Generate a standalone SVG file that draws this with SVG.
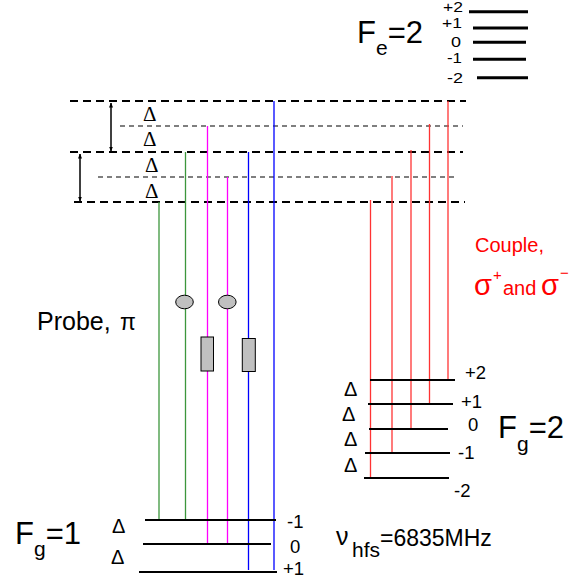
<svg xmlns="http://www.w3.org/2000/svg" width="581" height="579" viewBox="0 0 581 579">
<defs>
<marker id="ah" viewBox="0 0 10 10" refX="9" refY="5" markerWidth="5" markerHeight="7" orient="auto-start-reverse" markerUnits="userSpaceOnUse">
<path d="M0,1 L10,5 L0,9 z" fill="#000"/>
</marker>
<style>
text{font-family:"Liberation Sans",Arial,sans-serif;fill:#000}
.d{font-family:"Liberation Serif","DejaVu Serif",serif;font-size:21px}
.ds{font-family:"Liberation Sans",Arial,sans-serif;font-size:20px}
.lvl{stroke:#000;stroke-width:2.2}
.lvlE{stroke:#000;stroke-width:3}
.dt{stroke:#000;stroke-width:1.8;stroke-dasharray:8 5}
.dn{stroke:#555;stroke-width:1.3;stroke-dasharray:5 4}
.g{stroke:#3c963c;stroke-width:1.3}
.m{stroke:#ff00ff;stroke-width:1.3}
.b{stroke:#0000ff;stroke-width:1.3}
.r{stroke:#ff3333;stroke-width:1.3}
.lab{font-size:18.5px}
.labE{font-size:15.5px}
.big{font-size:31px}
.red{fill:#ff0000}
</style>
</defs>
<g id="connectors">
<line class="dt" x1="70" y1="101" x2="466" y2="101"/>
<line class="dn" x1="120" y1="126" x2="463" y2="126"/>
<line class="dt" x1="70" y1="152" x2="463" y2="152"/>
<line class="dn" x1="98" y1="177" x2="457" y2="177"/>
<line class="dt" x1="74" y1="202" x2="465" y2="202"/>
<line stroke="#000" stroke-width="1.5" x1="111" y1="103" x2="111" y2="151" marker-start="url(#ah)" marker-end="url(#ah)"/>
<line stroke="#000" stroke-width="1.5" x1="80" y1="154" x2="80" y2="201" marker-start="url(#ah)" marker-end="url(#ah)"/>
<line class="g" x1="159" y1="202" x2="159" y2="520"/>
<line class="g" x1="185.5" y1="152" x2="185.5" y2="520"/>
<line class="m" x1="207.5" y1="126" x2="207.5" y2="544"/>
<line class="m" x1="227.5" y1="177" x2="227.5" y2="544"/>
<line class="b" x1="248.5" y1="152" x2="248.5" y2="570"/>
<line class="b" x1="274" y1="101" x2="274" y2="570"/>
<line class="r" x1="370.5" y1="200" x2="370.5" y2="478"/>
<line class="r" x1="392" y1="176" x2="392" y2="453"/>
<line class="r" x1="411" y1="150" x2="411" y2="429"/>
<line class="r" x1="429.5" y1="124" x2="429.5" y2="404"/>
<line class="r" x1="448" y1="101" x2="448" y2="380"/>
</g>
<g id="probe-elements">
<ellipse cx="184.5" cy="302" rx="8.8" ry="6.8" fill="#c0c0c0" stroke="#000" stroke-width="1"/>
<ellipse cx="227.3" cy="302" rx="8.8" ry="6.8" fill="#c0c0c0" stroke="#000" stroke-width="1"/>
<rect x="201" y="337" width="12.5" height="34" fill="#c0c0c0" stroke="#000" stroke-width="1"/>
<rect x="242.3" y="338.5" width="13" height="33" fill="#c0c0c0" stroke="#000" stroke-width="1"/>
</g>
<g id="deltas-upper">
<text class="d" x="143" y="121">Δ</text>
<text class="d" x="143" y="146">Δ</text>
<text class="d" x="145" y="172">Δ</text>
<text class="d" x="145" y="198">Δ</text>
</g>
<g id="Fe2">
<line class="lvlE" x1="469" y1="11.7" x2="528" y2="11.7"/>
<line class="lvlE" x1="473" y1="28" x2="528" y2="28"/>
<line class="lvlE" x1="473" y1="42.3" x2="526" y2="42.3"/>
<line class="lvlE" x1="473" y1="59.3" x2="526" y2="59.3"/>
<line class="lvlE" x1="477" y1="77.7" x2="528" y2="77.7"/>
<text class="labE" x="443" y="12" textLength="20" lengthAdjust="spacingAndGlyphs">+2</text>
<text class="labE" x="442" y="28" textLength="20" lengthAdjust="spacingAndGlyphs">+1</text>
<text class="labE" x="451" y="46.5" textLength="10" lengthAdjust="spacingAndGlyphs">0</text>
<text class="labE" x="447" y="63" textLength="15" lengthAdjust="spacingAndGlyphs">-1</text>
<text class="labE" x="447" y="83" textLength="16" lengthAdjust="spacingAndGlyphs">-2</text>
<text class="big" font-size="33" x="357" y="43">F<tspan font-size="21" dy="12">e</tspan><tspan dy="-12">=2</tspan></text>
</g>
<g id="Fg2">
<line class="lvl" x1="370" y1="380" x2="455" y2="380"/>
<line class="lvl" x1="368" y1="404" x2="453" y2="404"/>
<line class="lvl" x1="369" y1="429" x2="448" y2="429"/>
<line class="lvl" x1="365" y1="453" x2="450" y2="453"/>
<line class="lvl" x1="364" y1="478" x2="449" y2="478"/>
<text class="lab" x="465" y="379">+2</text>
<text class="lab" x="461" y="408">+1</text>
<text class="lab" x="468" y="431">0</text>
<text class="lab" x="458" y="459">-1</text>
<text class="lab" x="454" y="497">-2</text>
<text class="ds" x="344" y="396">Δ</text>
<text class="ds" x="342" y="421">Δ</text>
<text class="ds" x="344" y="446">Δ</text>
<text class="ds" x="344" y="472">Δ</text>
<text class="big" x="498" y="438">F<tspan font-size="21" dy="13">g</tspan><tspan dy="-13">=2</tspan></text>
</g>
<g id="Fg1">
<line class="lvl" x1="145" y1="520" x2="276" y2="520"/>
<line class="lvl" x1="143" y1="544" x2="271" y2="544"/>
<line class="lvl" x1="139" y1="572" x2="277" y2="572"/>
<text class="lab" x="287" y="528">-1</text>
<text class="lab" x="290" y="553">0</text>
<text class="lab" x="283" y="575">+1</text>
<text class="ds" x="112" y="533">Δ</text>
<text class="ds" x="111" y="564">Δ</text>
<text class="big" x="15" y="544">F<tspan font-size="21" dy="12">g</tspan><tspan dy="-12">=1</tspan></text>
</g>
<g id="nu">
<text font-size="25" x="336" y="545">ν</text>
<text font-size="20" x="352" y="557" textLength="28" lengthAdjust="spacingAndGlyphs">hfs</text>
<text font-size="23" x="380" y="546">=6835MHz</text>
</g>
<g id="couple">
<text class="red" font-size="20" x="475" y="252">Couple,</text>
<text class="red" font-size="30" x="474" y="295" textLength="18" lengthAdjust="spacingAndGlyphs">σ</text>
<text class="red" font-size="15" x="493" y="280">+</text>
<text class="red" font-size="20" x="503" y="295">and</text>
<text class="red" font-size="30" x="541" y="295" textLength="18" lengthAdjust="spacingAndGlyphs">σ</text>
<text class="red" font-size="15" x="560" y="278">−</text>
</g>
<g id="probe">
<text font-size="25" x="37" y="330">Probe,</text>
<text font-size="23" x="120" y="330" font-family="Liberation Serif, serif">π</text>
</g>
</svg>
